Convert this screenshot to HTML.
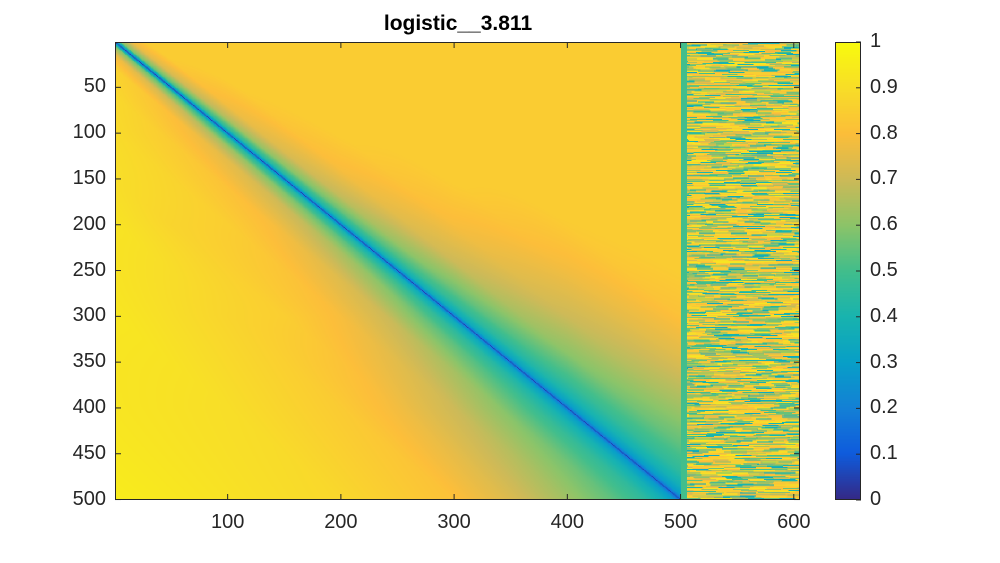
<!DOCTYPE html>
<html><head><meta charset="utf-8">
<style>
body{margin:0;background:#fff;width:1000px;height:563px;overflow:hidden;font-family:"Liberation Sans","DejaVu Sans",sans-serif;}
#wrap{position:relative;width:1000px;height:563px;}
.t{position:absolute;font-size:20px;color:#262626;white-space:nowrap;}
</style></head><body>
<div id="wrap">
<div class="t" style="left:0;width:916px;text-align:center;top:12px;font-weight:bold;color:#000;font-size:21px;">logistic__3.811</div>
<canvas id="hm" width="605" height="500" style="position:absolute;left:115px;top:42px;width:685px;height:458px;image-rendering:pixelated;"></canvas>
<canvas id="cb" width="1" height="256" style="position:absolute;left:835px;top:42px;width:26px;height:458px;"></canvas>
<svg id="ax" width="1000" height="563" style="position:absolute;left:0;top:0"></svg>
<div id="labels"></div>
</div>
<script>
// ---- data ----
const xTicks=[100,200,300,400,500,600];
const yTicks=[50,100,150,200,250,300,350,400,450,500];
const cbTicks=[0,0.1,0.2,0.3,0.4,0.5,0.6,0.7,0.8,0.9,1];
const distKnots=[0,1,5,15,30,60,100,150,200,300,500];
const rowKnots=[0,100,200,300,400,500];
const profile0=[0.05,0.25,0.6,0.8,0.9,0.93,0.95,0.95,0.95,0.95,0.95];
const profile100=[0.05,0.25,0.45,0.65,0.78,0.85,0.89,0.93,0.95,0.95,0.95];
const profile200=[0.05,0.23,0.4,0.55,0.68,0.79,0.85,0.87,0.92,0.95,0.95];
const profile300=[0.05,0.2,0.35,0.46,0.56,0.7,0.79,0.85,0.87,0.93,0.95];
const profile400=[0.05,0.18,0.3,0.4,0.48,0.6,0.7,0.78,0.84,0.9,0.95];
const profile500=[0.05,0.16,0.28,0.37,0.45,0.54,0.63,0.73,0.81,0.88,0.95];
const upperCap=0.845;
const nMain=500, nCols=605, gapCols=[501,502,503,504,505], gapValue=0.5;
const noiseLevels=[0.55,0.62,0.85,0.88,0.72,0.4,0.9,0.8,0.6,0.85,0.5,0.78,0.92,0.65,0.83,0.35];
// parula colormap stops
const cmapPos=[0,0.1,0.2,0.3,0.4,0.5,0.6,0.7,0.8,0.9,1];
const cmapRGB=[[53,42,135],[15,92,221],[20,129,214],[8,160,200],[25,180,175],[66,190,140],[140,196,105],[205,186,88],[252,190,58],[248,222,40],[249,251,14]];

const profiles=[profile0,profile100,profile200,profile300,profile400,profile500];
function lerpArr(xs,ys,x){if(x<=xs[0])return ys[0];for(let k=1;k<xs.length;k++){if(x<=xs[k]){const t=(x-xs[k-1])/(xs[k]-xs[k-1]);return ys[k-1]+t*(ys[k]-ys[k-1]);}}return ys[ys.length-1];}
function cmap(v){v=Math.max(0,Math.min(1,v));let k=1;while(k<cmapPos.length-1&&v>cmapPos[k])k++;const t=(v-cmapPos[k-1])/(cmapPos[k]-cmapPos[k-1]);const a=cmapRGB[k-1],b=cmapRGB[k];return [a[0]+t*(b[0]-a[0]),a[1]+t*(b[1]-a[1]),a[2]+t*(b[2]-a[2])];}
function hash(a,b){let h=(a*374761393+b*668265263)|0;h=(h^(h>>>13))*1274126177|0;return (h^(h>>>16))>>>0;}
function value(i,j){
  if(j>nMain){ if(gapCols.includes(j))return gapValue; return noiseLevels[hash(i,Math.floor((j+(hash(i,7)%14))/14))%noiseLevels.length]; }
  const d=Math.abs(i-j), r=Math.max(i,j);
  let k=1;while(k<rowKnots.length-1&&r>rowKnots[k])k++;
  const t=(r-rowKnots[k-1])/(rowKnots[k]-rowKnots[k-1]);
  let v=(1-t)*lerpArr(distKnots,profiles[k-1],d)+t*lerpArr(distKnots,profiles[k],d);
  if(j>i)v=Math.min(v,upperCap);
  return v;
}
const hm=document.getElementById('hm'),ctx=hm.getContext('2d');
const img=ctx.createImageData(nCols,nMain);
for(let i=1;i<=nMain;i++)for(let j=1;j<=nCols;j++){const c=cmap(value(i,j));const p=((i-1)*nCols+(j-1))*4;img.data[p]=c[0];img.data[p+1]=c[1];img.data[p+2]=c[2];img.data[p+3]=255;}
ctx.putImageData(img,0,0);
const cb=document.getElementById('cb'),cctx=cb.getContext('2d');
for(let y=0;y<256;y++){const c=cmap(1-y/255);cctx.fillStyle=`rgb(${c[0]|0},${c[1]|0},${c[2]|0})`;cctx.fillRect(0,y,1,1);}
// axes
const X0=115,X1=800,Y0=42,Y1=500;
const xs=v=>X0+(v-0.5)*(X1-X0)/nCols;
const ys=v=>Y0+(v-0.5)*(Y1-Y0)/nMain;
const cbY=v=>500-v*458;
const svg=document.getElementById('ax'),L=document.getElementById('labels');
function line(x1,y1,x2,y2,name){const l=document.createElementNS('http://www.w3.org/2000/svg','line');l.setAttribute('x1',x1);l.setAttribute('y1',y1);l.setAttribute('x2',x2);l.setAttribute('y2',y2);l.setAttribute('stroke','#262626');l.setAttribute('stroke-width','1');


svg.appendChild(l);}
function label(txt,x,y,align,name){const d=document.createElement('div');d.className='t';d.textContent=txt;d.style.top=(y-12)+'px';
if(align==='c'){d.style.left=(x-40)+'px';d.style.width='80px';d.style.textAlign='center';}else if(align==='r'){d.style.left=(x-80)+'px';d.style.width='80px';d.style.textAlign='right';}else{d.style.left=x+'px';}


L.appendChild(d);}
const r=document.createElementNS('http://www.w3.org/2000/svg','rect');r.setAttribute('x',X0+0.5);r.setAttribute('y',Y0+0.5);r.setAttribute('width',X1-X0-1);r.setAttribute('height',Y1-Y0-1);r.setAttribute('fill','none');r.setAttribute('stroke','#262626');


svg.appendChild(r);
xTicks.forEach(v=>{const x=xs(v);line(x,Y1,x,Y1-6,'x-tick');line(x,Y0,x,Y0+6,'x-tick-top');label(String(v),x,Y1+23,'c','x-tick-label');});
yTicks.forEach(v=>{const y=ys(v);line(X0,y,X0+6,y,'y-tick');line(X1,y,X1-6,y,'y-tick-right');label(String(v),X0-9,y,'r','y-tick-label');});
const cr=document.createElementNS('http://www.w3.org/2000/svg','rect');cr.setAttribute('x',835.5);cr.setAttribute('y',42.5);cr.setAttribute('width',25);cr.setAttribute('height',457);cr.setAttribute('fill','none');cr.setAttribute('stroke','#262626');


svg.appendChild(cr);
cbTicks.forEach(v=>{const y=cbY(v);line(856,y,861,y,'colorbar-tick');label(String(v),870,y,'l','colorbar-tick-label');});
</script>
</body></html>
